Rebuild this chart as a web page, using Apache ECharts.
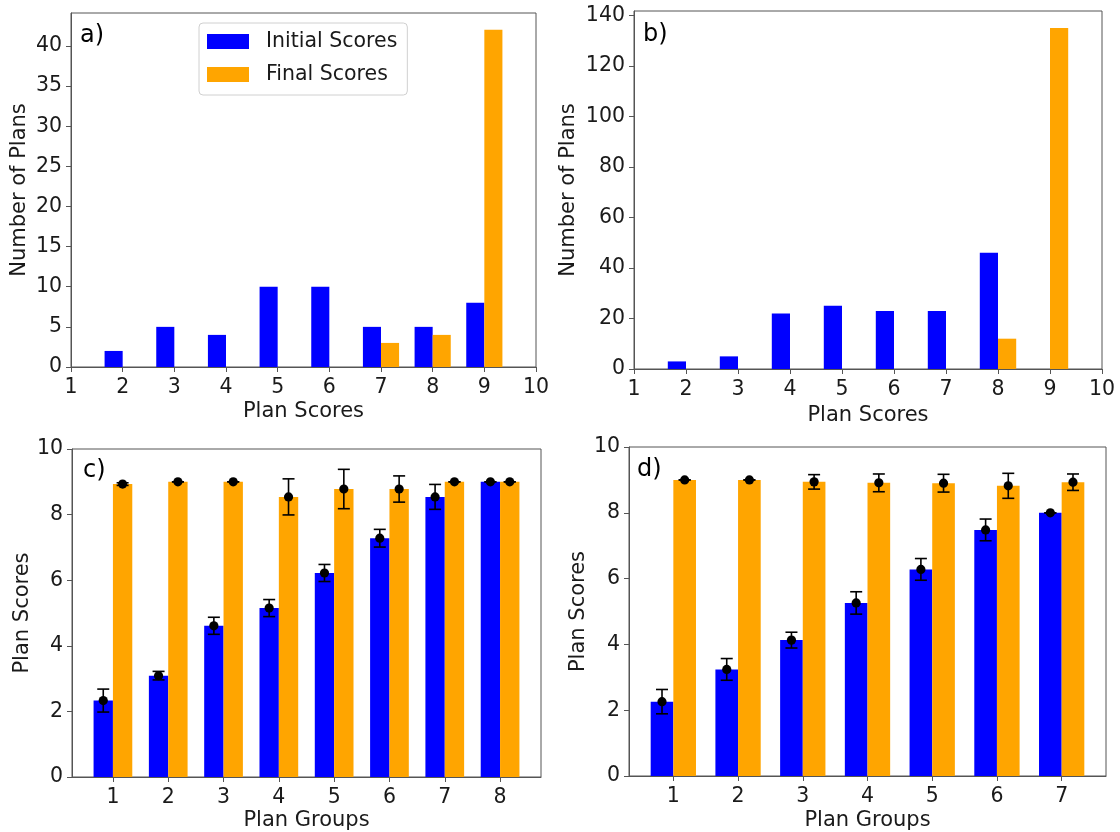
<!DOCTYPE html>
<html>
<head>
<meta charset="utf-8">
<script src="https://cdn.jsdelivr.net/npm/echarts@6/dist/echarts.min.js"></script>
<style>
html,body{margin:0;padding:0;background:#fff;}
#chart{width:1120px;height:832px;}
</style>
</head>
<body>
<div id="chart"></div>
<script>
// ---------- data ----------
const scoresA = [2, 3, 4, 5, 6, 7, 8, 9];
const initialA = [2, 5, 4, 10, 10, 5, 5, 8];
const finalA = [0, 0, 0, 0, 0, 3, 4, 42];

const scoresB = [2, 3, 4, 5, 6, 7, 8, 9];
const initialB = [3, 5, 22, 25, 23, 23, 46, 0];
const finalB = [0, 0, 0, 0, 0, 0, 12, 135];

const groupsC = [1, 2, 3, 4, 5, 6, 7, 8];
const initialC = [2.33, 3.09, 4.61, 5.15, 6.22, 7.28, 8.54, 9.0];
const initialErrC = [0.35, 0.13, 0.26, 0.26, 0.26, 0.27, 0.38, 0];
const finalC = [8.93, 9.0, 9.0, 8.54, 8.78, 8.78, 9.0, 9.0];
const finalErrC = [0.04, 0, 0, 0.55, 0.6, 0.4, 0, 0];

const groupsD = [1, 2, 3, 4, 5, 6, 7];
const initialD = [2.26, 3.24, 4.13, 5.26, 6.28, 7.48, 8.0];
const initialErrD = [0.37, 0.33, 0.24, 0.34, 0.33, 0.33, 0];
const finalD = [9.0, 9.0, 8.94, 8.91, 8.90, 8.82, 8.93];
const finalErrD = [0, 0, 0.22, 0.27, 0.27, 0.38, 0.25];

const xTicksAB = [1, 2, 3, 4, 5, 6, 7, 8, 9, 10];
const yTicksA = [0, 5, 10, 15, 20, 25, 30, 35, 40];
const yTicksB = [0, 20, 40, 60, 80, 100, 120, 140];
const yTicksCD = [0, 2, 4, 6, 8, 10];

const panelLabels = ['a)', 'b)', 'c)', 'd)'];
const seriesNames = ['Initial Scores', 'Final Scores'];

// ---------- style ----------
const BLUE = '#0000ff';
const ORANGE = '#ffa500';
const BAR_W = 0.35;
const FONT = 'DejaVu Sans';
const FS = 20.5;
const FS_NAME = 21;
const FRAME = '#555';
const TXT = '#1a1a1a';

const chart = echarts.init(document.getElementById('chart'), null, {renderer: 'canvas'});

function barRender(side) {
  return function (params, api) {
    const x = api.value(0), y = api.value(1);
    if (!y) return null;
    const x0 = side < 0 ? x - BAR_W : x;
    const p0 = api.coord([x0, y]);
    const p1 = api.coord([x0 + BAR_W, 0]);
    return {
      type: 'rect',
      shape: {x: p0[0], y: p0[1], width: p1[0] - p0[0], height: p1[1] - p0[1]},
      style: {fill: api.visual('color')}
    };
  };
}

function errRender(side) {
  return function (params, api) {
    const x = api.value(0) + side * BAR_W / 2;
    const m = api.value(1), e = api.value(2);
    const c = api.coord([x, m]);
    const t = api.coord([x, m + e]);
    const b = api.coord([x, m - e]);
    const cap = 6;
    const ls = {stroke: '#000', lineWidth: 1.6};
    return {
      type: 'group',
      children: [
        {type: 'line', shape: {x1: t[0], y1: t[1], x2: b[0], y2: b[1]}, style: ls},
        {type: 'line', shape: {x1: t[0] - cap, y1: t[1], x2: t[0] + cap, y2: t[1]}, style: ls},
        {type: 'line', shape: {x1: b[0] - cap, y1: b[1], x2: b[0] + cap, y2: b[1]}, style: ls},
        {type: 'circle', shape: {cx: c[0], cy: c[1], r: 4.6}, style: {fill: '#000'}}
      ]
    };
  };
}

function xAxis(idx, min, max, ticks, name, gap) {
  return {
    type: 'value', gridIndex: idx, min: min, max: max,
    name: name, nameLocation: 'middle', nameGap: gap,
    nameTextStyle: {fontFamily: FONT, fontSize: FS_NAME, color: TXT},
    axisLine: {show: true, onZero: false, lineStyle: {color: FRAME, width: 1}},
    axisTick: {show: true, length: 5, customValues: ticks, lineStyle: {color: FRAME}},
    axisLabel: {customValues: ticks, margin: 10, fontFamily: FONT, fontSize: FS, color: TXT},
    splitLine: {show: false}
  };
}
function yAxis(idx, min, max, ticks, name, gap) {
  return {
    type: 'value', gridIndex: idx, min: min, max: max,
    name: name, nameLocation: 'middle', nameGap: gap, nameRotate: 90,
    nameTextStyle: {fontFamily: FONT, fontSize: FS_NAME, color: TXT},
    axisLine: {show: true, onZero: false, lineStyle: {color: FRAME, width: 1}},
    axisTick: {show: true, length: 5, customValues: ticks, lineStyle: {color: FRAME}},
    axisLabel: {customValues: ticks, margin: 9, fontFamily: FONT, fontSize: FS, color: TXT},
    splitLine: {show: false}
  };
}

function pairs(xs, ys) { return xs.map((x, i) => [x, ys[i]]); }
function triples(xs, ys, es) { return xs.map((x, i) => [x, ys[i], es[i]]); }

function bars(idx, name, color, side, data) {
  return {
    type: 'custom', name: name, xAxisIndex: idx, yAxisIndex: idx,
    coordinateSystem: 'cartesian2d', itemStyle: {color: color},
    renderItem: barRender(side), data: data, z: 2, silent: true,
    encode: {x: 0, y: 1}
  };
}
function errs(idx, side, data) {
  return {
    type: 'custom', xAxisIndex: idx, yAxisIndex: idx,
    coordinateSystem: 'cartesian2d', itemStyle: {color: '#000'},
    renderItem: errRender(side), data: data, z: 5, silent: true,
    encode: {x: 0, y: 1}
  };
}

const grids = [
  {left: 71, top: 13, width: 465, height: 354},
  {left: 634, top: 11, width: 468, height: 358},
  {left: 72, top: 449, width: 469, height: 328},
  {left: 629, top: 447, width: 477, height: 332}
].map(g => Object.assign({show: true, borderColor: FRAME, borderWidth: 1, backgroundColor: 'transparent'}, g));

const labelPos = [[80, 24], [643, 23], [83, 459], [637, 458]];

const option = {
  animation: false,
  backgroundColor: '#fff',
  textStyle: {fontFamily: FONT},
  title: panelLabels.map((t, i) => ({
    text: t, left: labelPos[i][0], top: labelPos[i][1], padding: 0,
    textStyle: {fontFamily: FONT, fontSize: 24, fontWeight: 'normal', color: '#000'}
  })),
  legend: {
    data: seriesNames.map((n, i) => ({name: n, icon: 'rect', itemStyle: {color: i ? ORANGE : BLUE}})),
    orient: 'vertical', left: 199, top: 23,
    itemWidth: 42, itemHeight: 15, itemGap: 12,
    padding: [8, 10, 10, 8],
    borderColor: '#d0d0d0', borderWidth: 1, borderRadius: 4,
    backgroundColor: '#fff',
    selectedMode: false,
    textStyle: {fontFamily: FONT, fontSize: 20.5, color: TXT, lineHeight: 20, padding: [0, 0, 0, 12]}
  },
  grid: grids,
  xAxis: [
    xAxis(0, 1, 10, xTicksAB, 'Plan Scores', 34),
    xAxis(1, 1, 10, xTicksAB, 'Plan Scores', 36),
    xAxis(2, 0.26, 8.74, groupsC, 'Plan Groups', 33),
    xAxis(3, 0.315, 7.685, groupsD, 'Plan Groups', 34)
  ],
  yAxis: [
    yAxis(0, 0, 44.1, yTicksA, 'Number of Plans', 41),
    yAxis(1, 0, 141.75, yTicksB, 'Number of Plans', 55),
    yAxis(2, 0, 10, yTicksCD, 'Plan Scores', 39),
    yAxis(3, 0, 10, yTicksCD, 'Plan Scores', 40)
  ],
  series: [
    bars(0, seriesNames[0], BLUE, -1, pairs(scoresA, initialA)),
    bars(0, seriesNames[1], ORANGE, 1, pairs(scoresA, finalA)),
    bars(1, seriesNames[0], BLUE, -1, pairs(scoresB, initialB)),
    bars(1, seriesNames[1], ORANGE, 1, pairs(scoresB, finalB)),
    bars(2, seriesNames[0], BLUE, -1, pairs(groupsC, initialC)),
    bars(2, seriesNames[1], ORANGE, 1, pairs(groupsC, finalC)),
    errs(2, -1, triples(groupsC, initialC, initialErrC)),
    errs(2, 1, triples(groupsC, finalC, finalErrC)),
    bars(3, seriesNames[0], BLUE, -1, pairs(groupsD, initialD)),
    bars(3, seriesNames[1], ORANGE, 1, pairs(groupsD, finalD)),
    errs(3, -1, triples(groupsD, initialD, initialErrD)),
    errs(3, 1, triples(groupsD, finalD, finalErrD))
  ]
};
chart.setOption(option);
</script>
</body>
</html>
